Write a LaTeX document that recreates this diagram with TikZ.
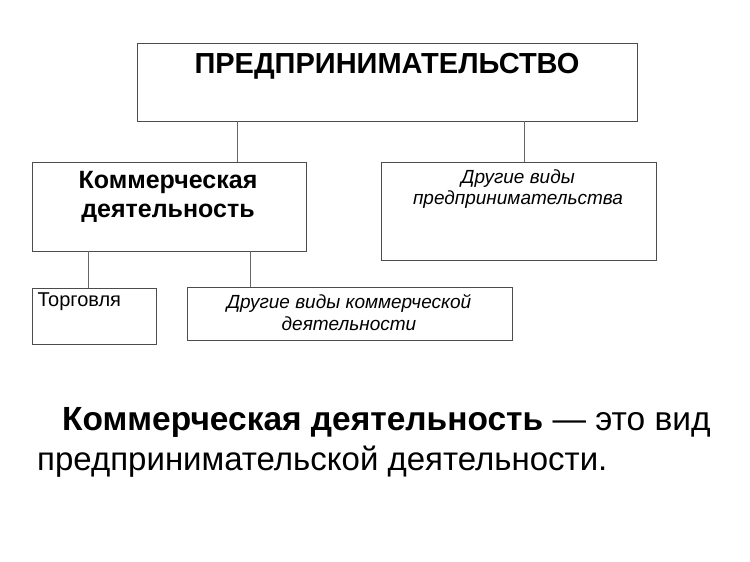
\documentclass[tikz,border=0pt]{standalone}
\usepackage{fontspec}
\setmainfont{Liberation Sans}
\begin{document}
\begin{tikzpicture}[x=1pt,y=-1pt,
  bx/.style={draw=black!70,line width=0.8pt},
  ln/.style={draw=black!60,line width=0.8pt}]
\useasboundingbox[fill=white] (0,0) rectangle (750,562);
\draw[bx] (137,43) rectangle (637,121);
\node[font=\fontsize{29}{34}\selectfont\bfseries] (t) at (387,66) {ПРЕДПРИНИМАТЕЛЬСТВО};
\draw[bx] (32,162) rectangle (306,251);
\node[align=center,font=\fontsize{25}{29}\selectfont\bfseries] (k) at (168,197) {Коммерческая\\деятельность};
\draw[bx] (381,162) rectangle (656,260);
\node[align=center,font=\fontsize{19}{21}\selectfont\itshape] (o) at (518,189) {Другие виды\\предпринимательства};
\draw[bx] (32,288) rectangle (156,344);
\node[anchor=west,font=\fontsize{20}{24}\selectfont] (tr) at (34,302) {Торговля};
\draw[bx] (187,287) rectangle (512,340);
\node[align=center,font=\fontsize{19}{22}\selectfont\itshape] (dk) at (349,313) {Другие виды коммерческой\\деятельности};
\coordinate (a1) at (237,121); \coordinate (a2) at (237,162);
\coordinate (b1) at (524,121); \coordinate (b2) at (524,162);
\coordinate (c1) at (88,251); \coordinate (c2) at (88,288);
\coordinate (d1) at (250,251); \coordinate (d2) at (250,287);
\draw[ln] (a1)--(a2); \draw[ln] (b1)--(b2); \draw[ln] (c1)--(c2); \draw[ln] (d1)--(d2);
\node[anchor=base west,inner sep=0,font=\fontsize{33.5}{38}\selectfont] (l1) at (62,430) {\textbf{Коммерческая деятельность} — это вид};
\node[anchor=base west,inner sep=0,font=\fontsize{33}{38}\selectfont] (l2) at (37,470) {предпринимательской деятельности.};
\end{tikzpicture}
\end{document}
